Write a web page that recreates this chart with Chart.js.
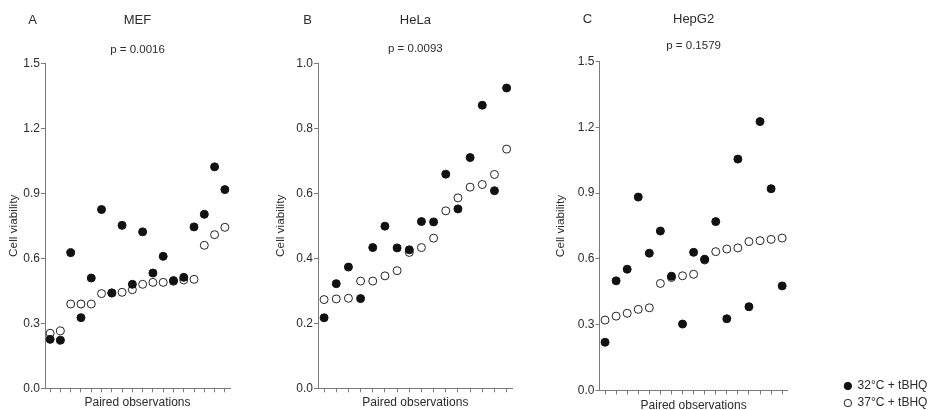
<!DOCTYPE html>
<html>
<head>
<meta charset="utf-8">
<script src="https://cdn.jsdelivr.net/npm/chart.js@4.4.1/dist/chart.umd.min.js"></script>
<style>
  html, body { margin: 0; padding: 0; background: #fff; width: 932px; height: 410px; overflow: hidden; }
  canvas { position: absolute; }
</style>
</head>
<body>
<canvas id="cA" width="240" height="410" style="left:0px;top:0px"></canvas>
<canvas id="cB" width="262" height="410" style="left:262px;top:0px"></canvas>
<canvas id="cC" width="552" height="410" style="left:380px;top:4px"></canvas>
<script>
// ---------- data ----------
const seriesNames = ['32°C + tBHQ', '37°C + tBHQ'];

const mefObs = ['1','2','3','4','5','6','7','8','9','10','11','12','13','14','15','16','17','18'];
const mef32 = [0.226,0.222,0.626,0.326,0.509,0.825,0.440,0.752,0.480,0.722,0.532,0.609,0.497,0.512,0.745,0.803,1.022,0.917];
const mef37 = [0.254,0.265,0.389,0.389,0.389,0.437,0.440,0.443,0.455,0.480,0.489,0.489,0.494,0.500,0.503,0.660,0.709,0.743];

const helaObs = ['1','2','3','4','5','6','7','8','9','10','11','12','13','14','15','16'];
const hela32 = [0.217,0.322,0.373,0.276,0.433,0.499,0.432,0.426,0.513,0.512,0.659,0.552,0.710,0.871,0.608,0.924];
const hela37 = [0.273,0.275,0.277,0.330,0.330,0.346,0.362,0.418,0.433,0.462,0.546,0.586,0.619,0.627,0.658,0.736];

const hepObs = ['1','2','3','4','5','6','7','8','9','10','11','12','13','14','15','16','17'];
const hep32 = [0.220,0.500,0.553,0.882,0.626,0.727,0.521,0.303,0.630,0.598,0.770,0.327,1.055,0.382,1.226,0.920,0.477];
const hep37 = [0.321,0.339,0.352,0.370,0.377,0.488,0.515,0.523,0.530,0.595,0.633,0.645,0.650,0.679,0.683,0.689,0.695];

const panelLetters = ['A', 'B', 'C'];
const panelTitles = ['MEF', 'HeLa', 'HepG2'];
const pValues = ['p = 0.0016', 'p = 0.0093', 'p = 0.1579'];
const yMax = [1.5, 1.0, 1.5];
const yStep = [0.3, 0.2, 0.3];
const yTitle = 'Cell viability';
const xTitle = 'Paired observations';

// ---------- style ----------
Chart.defaults.font.family = "'Liberation Sans', Arial, Helvetica, sans-serif";
Chart.defaults.color = '#2b2b2b';
const AXIS = '#7a7a7a';

function letterPlugin(letter, x, y) {
  return {
    id: 'panelLetter',
    afterDraw(chart) {
      const ctx = chart.ctx;
      ctx.save();
      ctx.font = "13px 'Liberation Sans', Arial, sans-serif";
      ctx.fillStyle = '#2b2b2b';
      ctx.textAlign = 'center';
      ctx.textBaseline = 'middle';
      ctx.fillText(letter, x, y);
      ctx.restore();
    }
  };
}

function makeChart(id, idx, labels, d32, d37, cfg) {
  const scales = {
    x: {
      type: 'category',
      offset: true,
      grid: { display: true, offset: false, drawOnChartArea: false, drawTicks: true, tickLength: 4, color: AXIS },
      border: { display: true, color: AXIS, width: 1 },
      ticks: { display: false },
      title: { display: true, text: xTitle, font: { size: 12 }, padding: { top: 0, bottom: cfg.xTitlePadB } },
      afterFit(s) { s.height = cfg.xHeight; }
    },
    y: {
      type: 'linear',
      position: 'left',
      min: 0,
      max: yMax[idx],
      grid: { display: true, drawOnChartArea: false, drawTicks: true, tickLength: 4, color: AXIS },
      border: { display: true, color: AXIS, width: 1 },
      ticks: { stepSize: yStep[idx], padding: 1, font: { size: 12 }, color: '#2b2b2b', callback: v => Number(v).toFixed(1) },
      title: { display: true, text: yTitle, font: { size: 11.8 }, padding: { top: cfg.yTitlePadT, bottom: 0 } },
      afterFit(s) { s.width = cfg.yWidth; }
    }
  };
  if (cfg.spacer) {
    scales.y2 = {
      type: 'linear',
      position: 'right',
      display: true,
      grid: { display: false, drawTicks: false },
      border: { display: false },
      ticks: { display: false },
      afterFit(s) { s.width = Math.max(0, s.chart.width - cfg.padR - s.chart.legend.width - cfg.areaRight); }
    };
  }
  return new Chart(document.getElementById(id), {
    type: 'scatter',
    data: {
      labels: labels,
      datasets: [
        { label: seriesNames[0], data: d32, showLine: false, pointStyle: 'circle', pointRadius: 4, pointHoverRadius: 4,
          backgroundColor: '#111', borderColor: '#111', borderWidth: 1 },
        { label: seriesNames[1], data: d37, showLine: false, pointStyle: 'circle', pointRadius: 4, pointHoverRadius: 4,
          backgroundColor: '#fff', borderColor: '#222', borderWidth: 1 }
      ]
    },
    options: {
      responsive: false,
      animation: false,
      events: [],
      layout: { padding: { left: 0, top: 0, bottom: 0, right: cfg.padR } },
      scales: scales,
      plugins: {
        tooltip: { enabled: false },
        title: { display: true, fullSize: false, text: panelTitles[idx], font: { size: 13, weight: 'normal' }, color: '#2b2b2b',
                 padding: { top: cfg.tPadT, bottom: cfg.tPadB } },
        subtitle: { display: true, fullSize: false, text: pValues[idx], font: { size: 11.5, weight: 'normal' }, color: '#2b2b2b',
                    padding: { top: 0, bottom: cfg.sPadB } },
        legend: cfg.legend ? {
          display: true, position: 'right', align: 'end', fullSize: true,
          labels: { usePointStyle: true, pointStyleWidth: 7.4, boxHeight: 5.2, padding: 5, font: { size: 12 }, color: '#2b2b2b' }
        } : { display: false }
      }
    },
    plugins: [letterPlugin(panelLetters[idx], cfg.letterX, cfg.letterY)]
  });
}

makeChart('cA', 0, mefObs, mef32, mef37, {
  padR: 10, xHeight: 21.7, xTitlePadB: 0, yWidth: 45, yTitlePadT: 7.1,
  tPadT: 12.2, tPadB: 14.8, sPadB: 6.9, letterX: 32.5, letterY: 20, legend: false
});
makeChart('cB', 1, helaObs, hela32, hela37, {
  padR: 11.3, xHeight: 21.7, xTitlePadB: 0, yWidth: 56, yTitlePadT: 12.1,
  tPadT: 12.2, tPadB: 14.3, sPadB: 7.4, letterX: 45.5, letterY: 20, legend: false
});
makeChart('cC', 2, hepObs, hep32, hep37, {
  padR: 1, xHeight: 23.5, xTitlePadB: 0.8, yWidth: 219.5, yTitlePadT: 174.1,
  tPadT: 7.7, tPadB: 11.8, sPadB: 8.6, letterX: 207.5, letterY: 15.5, legend: true,
  spacer: true, areaRight: 407.7
});
</script>
</body>
</html>
